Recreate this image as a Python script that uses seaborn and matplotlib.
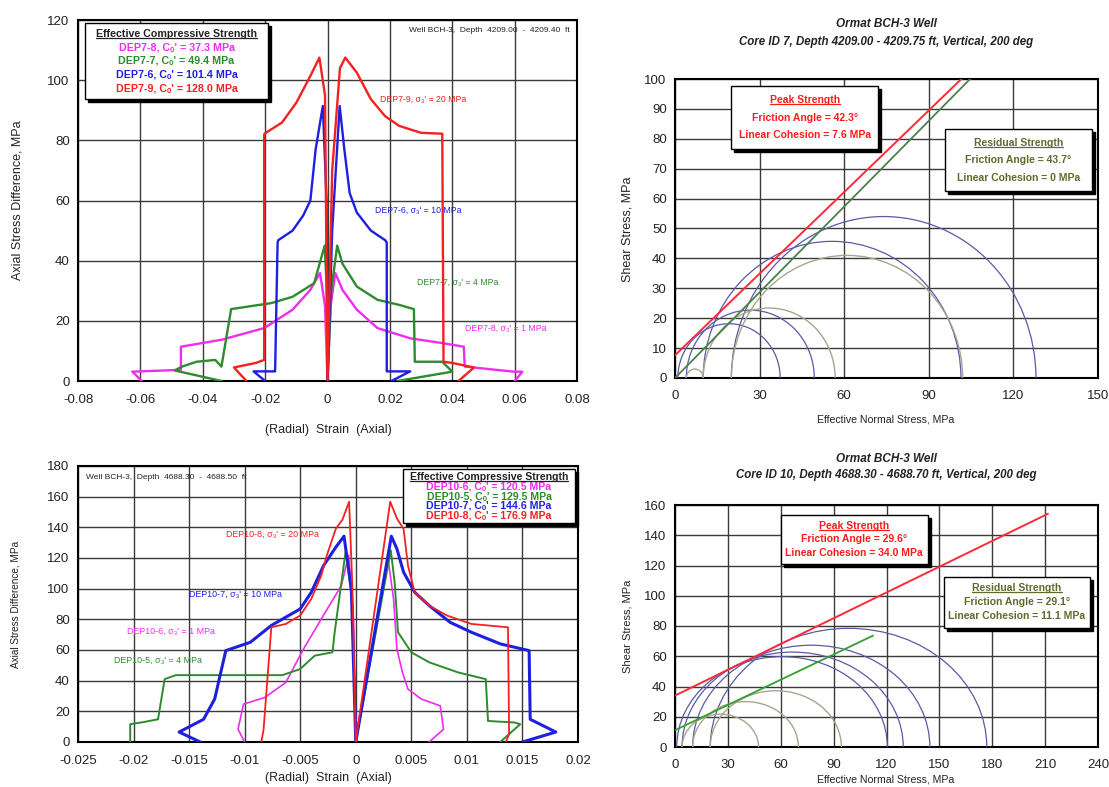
import numpy as np
import matplotlib
matplotlib.use("Agg")
import matplotlib.pyplot as plt
import seaborn as sns
from matplotlib.patches import Arc, Rectangle
from matplotlib.lines import Line2D
from matplotlib.transforms import offset_copy

# ---------------- Core 7 stress-strain (radial strain < 0, axial strain > 0)
c7_names = ["DEP7-8", "DEP7-7", "DEP7-6", "DEP7-9"]
c7_s3 = [1, 4, 10, 20]
c7_co = [37.3, 49.4, 101.4, 128.0]

c7_mag_x = [-0.0595, -0.0626, -0.047, -0.047, -0.034, -0.0203, -0.0112, -0.0055, -0.0024, -0.0008, 0.0,
            0.001, 0.0025, 0.0048, 0.0094, 0.016, 0.0265, 0.0368, 0.0437, 0.044, 0.0597, 0.0625, 0.0600]
c7_mag_y = [0, 3.1, 3.7, 11.4, 13.7, 17.6, 23.7, 30.3, 35.9, 25, 0,
            25, 35.9, 30.3, 23.7, 17.6, 14.2, 12.6, 11.4, 4.8, 3.1, 3.1, 0]
c7_grn_x = [-0.034, -0.049, -0.0466, -0.042, -0.036, -0.034, -0.0309, -0.018, -0.0112, -0.0043, -0.0009, -0.0002, 0.0,
            0.0012, 0.0031, 0.0048, 0.0094, 0.016, 0.023, 0.0277, 0.028, 0.0368, 0.040, 0.0224]
c7_grn_y = [0, 3.5, 4.8, 6.4, 7, 4.8, 23.9, 25.9, 28, 32.5, 45, 30, 0,
            30, 45, 39, 31.4, 27, 25.3, 23.9, 6.4, 6.4, 3.1, 0]
c7_blu_x = [-0.0200, -0.0237, -0.0168, -0.0160, -0.0158, -0.0112, -0.0078, -0.0055, -0.0038, -0.0015, -0.0003, 0.0,
            0.0015, 0.0039, 0.0054, 0.0071, 0.0094, 0.0139, 0.0185, 0.0190, 0.0190, 0.0265, 0.0205]
c7_blu_y = [0, 3.2, 3.2, 46, 46.8, 50, 55, 60, 77, 91.4, 60, 0,
            50, 91.4, 77, 62.5, 56, 50, 46.8, 46, 3.2, 3.2, 0]
c7_red_x = [-0.026, -0.030, -0.023, -0.0203, -0.0203, -0.0198, -0.0146, -0.010, -0.0055, -0.0026, -0.0008, 0.0,
            0.0015, 0.004, 0.0057, 0.0094, 0.0139, 0.0185, 0.023, 0.030, 0.0368, 0.0372, 0.040, 0.047, 0.042]
c7_red_y = [0, 4.5, 6, 7, 82, 82.5, 85.9, 92.5, 101.4, 107.5, 95, 0,
            70, 104, 107.5, 102.5, 93.7, 88, 84.8, 82.5, 82.2, 6.4, 6, 4.5, 0]

# ---------------- Core 10 stress-strain
c10_names = ["DEP10-6", "DEP10-5", "DEP10-7", "DEP10-8"]
c10_s3 = [1, 4, 10, 20]
c10_co = [120.5, 129.5, 144.6, 176.9]

c10_mag_x = [-0.0100, -0.0106, -0.0101, -0.0082, -0.0063, -0.0047, -0.0031, -0.0013, -0.00064, -0.0002, 0.0,
             0.0029, 0.0034, 0.0037, 0.0042, 0.0047, 0.0059, 0.0076, 0.0079, 0.0066]
c10_mag_y = [0, 8.3, 24.7, 29, 38.8, 60.7, 80.3, 102, 121.8, 80, 0,
             119.6, 93.4, 60.7, 45.4, 34.5, 28, 23.6, 8.3, 0]
c10_grn_x = [-0.0203, -0.0203, -0.0191, -0.0178, -0.0172, -0.0162, -0.0066, -0.005, -0.0037, -0.0021, -0.0019,
             -0.0009, -0.0003, 0.0, 0.00315, 0.0035, 0.0038, 0.005, 0.0066, 0.0092, 0.0117, 0.0119, 0.0143, 0.0148, 0.0130]
c10_grn_y = [0, 11.6, 13, 14.8, 41, 43.6, 43.6, 47.6, 56.3, 58.5, 71.6,
             125, 90, 0, 125, 104, 71.6, 58.5, 52, 45.4, 41, 13.7, 12.7, 11.6, 0]
c10_blu_x = [-0.014, -0.0159, -0.0137, -0.0127, -0.0117, -0.0095, -0.0076, -0.0063, -0.005, -0.004, -0.0029, -0.0018,
             -0.00106, -0.0004, 0.0, 0.0032, 0.0037, 0.0043, 0.0053, 0.0066, 0.0085, 0.0104, 0.013, 0.0156, 0.0157,
             0.0180, 0.0150]
c10_blu_y = [0, 6.5, 14.8, 28, 59.6, 65, 76, 81.4, 86.8, 97.7, 115, 127,
             134.2, 100, 0, 134.2, 126, 110.8, 97.7, 89, 78, 71.6, 64, 59.6, 14.8,
             6.5, 0]
c10_red_x = [-0.0085, -0.0083, -0.0076, -0.0063, -0.005, -0.004, -0.0031, -0.0026, -0.0018, -0.0012, -0.0006, -0.0003,
             0.0, 0.0031, 0.0037, 0.0043, 0.0047, 0.0053, 0.0066, 0.0082, 0.0104, 0.0137, 0.0138, 0.0135]
c10_red_y = [0, 8, 74.8, 77, 82.5, 93.4, 108.7, 121.8, 139, 145, 156.7, 100,
             0, 156.7, 145.8, 139, 115, 97.7, 89, 82.5, 77, 74.8, 5, 0]

# ---------------- Mohr circles (sigma3, sigma1) and envelopes
c7_res_s3 = [4, 10, 20]
c7_res_s1 = [10, 56.8, 102]
c7_peak_phi, c7_peak_c = 42.3, 7.6
c7_res_phi, c7_res_c = 43.7, 0.0

c10_res_s3 = [4, 10, 20]
c10_res_s1 = [47.4, 70, 94.4]
c10_peak_phi, c10_peak_c = 29.6, 34.0
c10_res_phi, c10_res_c = 29.1, 11.1

MAG, GRN, BLU, RED = "#f02cf0", "#2e8b2e", "#1f1fe0", "#f52020"
curve_cols = [MAG, GRN, BLU, RED]

sns.set_style("whitegrid", {"grid.color": "#3a3a3a", "axes.edgecolor": "black"})
plt.rcParams['font.family'] = ['Liberation Sans', 'DejaVu Sans']
FAM = ['Liberation Sans', 'DejaVu Sans']

W, H = 1109, 787
fig = plt.figure(figsize=(W / 100, H / 100), dpi=100)


def add_ax(l, t, r, b):
    return fig.add_axes([l / W, 1 - b / H, (r - l) / W, (b - t) / H])


def style(ax):
    ax.grid(True, color="#3a3a3a", lw=1.0)
    for s in ax.spines.values():
        s.set_color("black")
        s.set_linewidth(1.5)
    ax.tick_params(length=0, labelsize=9.5, colors="#222222")
    ax.tick_params(axis="x", pad=9)
    ax.tick_params(axis="y", pad=6)
    ax.set_xlabel("")
    ax.set_ylabel("")


def text_box(ax, x0, y0, x1, y1, lines, colors, size, uls):
    sh = offset_copy(ax.transAxes, fig=fig, x=3, y=-3, units='dots')
    ax.add_patch(Rectangle((x0, y0), x1 - x0, y1 - y0, transform=sh, fc="black", ec="black", zorder=5, clip_on=False))
    ax.add_patch(Rectangle((x0, y0), x1 - x0, y1 - y0, transform=ax.transAxes, fc="white", ec="black",
                           lw=1.0, zorder=6, clip_on=False))
    n = len(lines)
    for i, (s, c) in enumerate(zip(lines, colors)):
        y = y1 - (y1 - y0) * (i + 0.8) / (n + 0.6)
        t = ax.text((x0 + x1) / 2, y, s, color=c, ha="center", va="center", fontsize=size, fontweight="bold",
                    family=FAM, transform=ax.transAxes, zorder=7)
        if i == 0:
            uls.append(t)


underlined = []

# ================= top-left: core 7 stress-strain
ax1 = add_ax(78, 20, 577, 381)
for xs, ys, c in zip([c7_mag_x, c7_grn_x, c7_blu_x, c7_red_x], [c7_mag_y, c7_grn_y, c7_blu_y, c7_red_y], curve_cols):
    sns.lineplot(x=xs, y=ys, sort=False, estimator=None, color=c, lw=1.7, ax=ax1, zorder=3)
ax1.set_xlim(-0.08, 0.08)
ax1.set_ylim(0, 120)
ax1.set_xticks(np.arange(-0.08, 0.081, 0.02))
ax1.set_xticklabels(["-0.08", "-0.06", "-0.04", "-0.02", "0", "0.02", "0.04", "0.06", "0.08"])
ax1.set_yticks(np.arange(0, 121, 20))
style(ax1)
for name, s3, c, (x, y) in zip(c7_names, c7_s3, curve_cols,
                               [(0.0442, 17.6), (0.0288, 32.8), (0.0151, 56.8), (0.0168, 93.5)]):
    ax1.text(x, y, f"{name}, σ₃' = {s3} MPa", color=c, fontsize=6.3, va="center")
ax1.text(0.0262, 116.4, "Well BCH-3,  Depth  4209.00  -  4209.40  ft", fontsize=6.0, va="center", color="#222222")
text_box(ax1, 0.014, 0.781, 0.381, 0.992,
         ["Effective Compressive Strength"] + [f"{n}, Cₒ' = {v:.1f} MPa" for n, v in zip(c7_names, c7_co)],
         ["#222222"] + curve_cols, 7.7, underlined)

# ================= bottom-left: core 10 stress-strain
ax3 = add_ax(78, 466, 578, 742)
for xs, ys, c, lw in zip([c10_mag_x, c10_grn_x, c10_blu_x, c10_red_x], [c10_mag_y, c10_grn_y, c10_blu_y, c10_red_y],
                         curve_cols, [1.2, 1.4, 2.2, 1.3]):
    sns.lineplot(x=xs, y=ys, sort=False, estimator=None, color=c, lw=lw, ax=ax3, zorder=3)
ax3.set_xlim(-0.025, 0.02)
ax3.set_ylim(0, 180)
ax3.set_xticks(np.arange(-0.025, 0.0201, 0.005))
ax3.set_xticklabels(["-0.025", "-0.02", "-0.015", "-0.01", "-0.005", "0", "0.005", "0.01", "0.015", "0.02"])
ax3.set_yticks(np.arange(0, 181, 20))
style(ax3)
for name, s3, c, (x, y) in zip(c10_names, c10_s3, curve_cols,
                               [(-0.0206, 72), (-0.0218, 53), (-0.0150, 96.4), (-0.01167, 135.3)]):
    ax3.text(x, y, f"{name}, σ₃' = {s3} MPa", color=c, fontsize=6.4, va="center")
ax3.text(-0.0243, 172.4, "Well BCH-3,  Depth  4688.30  -  4688.50  ft", fontsize=6.0, va="center", color="#222222")
text_box(ax3, 0.65, 0.792, 0.994, 0.989,
         ["Effective Compressive Strength"] + [f"{n}, Cₒ' = {v:.1f} MPa" for n, v in zip(c10_names, c10_co)],
         ["#222222"] + curve_cols, 7.6, underlined)


# ================= Mohr panels
def mohr(ax, s3, co, res_s3, res_s1, pk, rs, xmax_pk, xmax_rs, rs_col):
    for a, b in zip(s3, co):
        ax.add_patch(Arc(((a + b) / 2, 0), b - a, b - a, theta1=0, theta2=180, color="#5a5aa6", lw=0.9, zorder=3))
    for a, b in zip(res_s3, res_s1):
        ax.add_patch(Arc(((a + b) / 2, 0), b - a, b - a, theta1=0, theta2=180, color="#a6a68c", lw=1.0, zorder=3))
    xp = np.array([0, xmax_pk])
    sns.lineplot(x=xp, y=pk[1] + np.tan(np.radians(pk[0])) * xp, color="#ff2a3a", lw=1.4, ax=ax, zorder=4)
    xr = np.array([0, xmax_rs])
    sns.lineplot(x=xr, y=rs[1] + np.tan(np.radians(rs[0])) * xr, color=rs_col, lw=1.3, ax=ax, zorder=4)


PK, RS = "#ff1a1a", "#5f6b2d"
BOX = 7.5

ax2 = add_ax(675, 79, 1098, 378)
mohr(ax2, c7_s3, c7_co, c7_res_s3, c7_res_s1, (c7_peak_phi, c7_peak_c), (c7_res_phi, c7_res_c), 150, 150, "#4f7f4f")
ax2.set_xlim(0, 150)
ax2.set_ylim(0, 100)
ax2.set_xticks(np.arange(0, 151, 30))
ax2.set_yticks(np.arange(0, 101, 10))
style(ax2)
text_box(ax2, 0.132, 0.765, 0.481, 0.977,
         ["Peak Strength", f"Friction Angle = {c7_peak_phi}°", f"Linear Cohesion = {c7_peak_c} MPa"],
         [PK] * 3, BOX, underlined)
text_box(ax2, 0.638, 0.624, 0.986, 0.832,
         ["Residual Strength", f"Friction Angle = {c7_res_phi}°", f"Linear Cohesion = {c7_res_c:.0f} MPa"],
         [RS] * 3, BOX, underlined)

ax4 = add_ax(675, 505, 1098, 747)
mohr(ax4, c10_s3, c10_co, c10_res_s3, c10_res_s1, (c10_peak_phi, c10_peak_c), (c10_res_phi, c10_res_c),
     211.6, 112.4, "#33a033")
ax4.set_xlim(0, 240)
ax4.set_ylim(0, 160)
ax4.set_xticks(np.arange(0, 241, 30))
ax4.set_yticks(np.arange(0, 161, 20))
style(ax4)
text_box(ax4, 0.25, 0.756, 0.598, 0.96,
         ["Peak Strength", f"Friction Angle = {c10_peak_phi}°", f"Linear Cohesion = {c10_peak_c} MPa"],
         [PK] * 3, BOX, underlined)
text_box(ax4, 0.635, 0.493, 0.982, 0.702,
         ["Residual Strength", f"Friction Angle = {c10_res_phi}°", f"Linear Cohesion = {c10_res_c} MPa"],
         [RS] * 3, BOX, underlined)


def ftxt(x, y, s, **kw):
    fig.text(x / W, 1 - y / H, s, ha="center", va="center", **kw)


ftxt(18, 200, "Axial Stress Difference, MPa", rotation=90, fontsize=9, color="#222222")
ftxt(328, 430, "(Radial)  Strain  (Axial)", fontsize=9, color="#222222")
ftxt(16, 604, "Axial Stress Difference, MPa", rotation=90, fontsize=7.2, color="#222222")
ftxt(328, 778, "(Radial)  Strain  (Axial)", fontsize=9, color="#222222")
ftxt(628, 229, "Shear Stress, MPa", rotation=90, fontsize=9, color="#222222")
ftxt(886, 419, "Effective Normal Stress, MPa", fontsize=7.6, color="#222222")
ftxt(628, 626, "Shear Stress, MPa", rotation=90, fontsize=8, color="#222222")
ftxt(886, 779, "Effective Normal Stress, MPa", fontsize=7.6, color="#222222")
ftxt(886, 24, "Ormat BCH-3 Well", fontsize=8.5, fontweight="bold", style="italic", color="#222222")
ftxt(886, 42, "Core ID 7, Depth 4209.00 - 4209.75 ft, Vertical, 200 deg", fontsize=8.3, fontweight="bold",
     style="italic", color="#222222")
ftxt(886, 459, "Ormat BCH-3 Well", fontsize=8.5, fontweight="bold", style="italic", color="#222222")
ftxt(886, 475, "Core ID 10, Depth 4688.30 - 4688.70 ft, Vertical, 200 deg", fontsize=8.3, fontweight="bold",
     style="italic", color="#222222")

# underline the box titles
fig.canvas.draw()
r = fig.canvas.get_renderer()
for t in underlined:
    bb = t.get_window_extent(r)
    fig.add_artist(Line2D([bb.x0, bb.x1], [bb.y0 + 1, bb.y0 + 1], transform=None, color=t.get_color(), lw=0.9,
                          zorder=8))

fig.savefig("out.png", dpi=100, facecolor="white")
